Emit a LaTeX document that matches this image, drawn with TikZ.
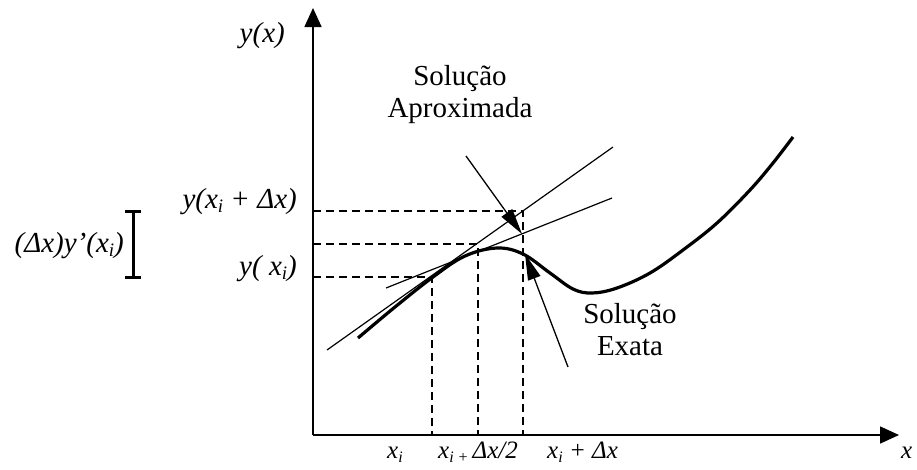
\documentclass[tikz,border=0pt]{standalone}
\usepackage{fontspec}
\setmainfont{Liberation Serif}
\usetikzlibrary{arrows.meta}
\newcommand{\sbi}[1]{\raisebox{-0.35ex}{\fontsize{19}{19}\selectfont #1}}
\newcommand{\sbs}[1]{\raisebox{-0.35ex}{\fontsize{16}{16}\selectfont #1}}
\begin{document}
\begin{tikzpicture}[x=1pt,y=-1pt,
  axis/.style={line width=1.6pt,-{Triangle[length=19pt,width=17pt]}},
  guide/.style={line width=1.2pt, dash pattern=on 8pt off 5pt},
  tanline/.style={line width=1.2pt},
  exact/.style={line width=3.2pt},
  pointer/.style={line width=1.3pt,-{Triangle[length=26pt,width=13pt]}},
  bar/.style={line width=3pt},
  lbl/.style={font=\fontsize{29}{32}\selectfont\itshape, inner sep=0pt},
  blbl/.style={font=\fontsize{25}{28}\selectfont\itshape, inner sep=0pt},
  txt/.style={font=\fontsize{29}{32}\selectfont, inner sep=0pt, align=center}]
\useasboundingbox (0,0) rectangle (917,469);
% axes
\coordinate (O) at (313,435);
\coordinate (ytop) at (313,8);
\coordinate (xend) at (899,435);
\draw[axis] (O) -- (ytop);
\draw[axis] (O) -- (xend);
% guide points
\coordinate (hA) at (313,211);
\coordinate (hB) at (313,244);
\coordinate (hC) at (313,277);
\coordinate (pA) at (523,211);
\coordinate (pB) at (478,244);
\coordinate (pC) at (432,277);
\coordinate (bA) at (523,435);
\coordinate (bB) at (478,435);
\coordinate (bC) at (432,435);
\draw[guide] (hA) -- (pA) -- (bA);
\draw[guide] (hB) -- (pB) -- (bB);
\draw[guide] (hC) -- (pC) -- (bC);
% tangent lines
\coordinate (t1a) at (327,350);
\coordinate (t1b) at (613,147);
\coordinate (t2a) at (386,288);
\coordinate (t2b) at (612,198);
\draw[tanline] (t1a) -- (t1b);
\draw[tanline] (t2a) -- (t2b);
% exact solution curve
\draw[exact] plot[smooth, tension=0.6] coordinates {(358,338) (395,307) (433,277) (465,256) (497,248) (523,254) (550,273) (573,289) (592,293) (617,288) (650,273) (683,250) (717,223) (750,190) (773,163) (793,137)};
% labels
\node[lbl, anchor=base east] (lyx) at (285,42) {y(x)};
\node[lbl, anchor=base east] (lyxd) at (297,208) {y(x\sbi{i} + Δx)};
\node[lbl, anchor=base east] (lyxi) at (297,275) {y( x\sbi{i})};
\node[lbl, anchor=base east] (ldy) at (124,252) {(Δx)y’(x\sbi{i})};
\node[blbl, anchor=base west] (bx1) at (387,458) {x\sbs{i}};
\node[blbl, anchor=base west] (bx2) at (438,458) {x\sbs{i +}\,Δx/2};
\node[blbl, anchor=base west] (bx3) at (547,458) {x\sbs{i} + Δx};
\node[blbl, anchor=base west] (bxx) at (901,458) {x};
% I-bar
\coordinate (ibT) at (133,211);
\coordinate (ibB) at (133,277);
\coordinate (ibTl) at (125,211);
\coordinate (ibTr) at (141,211);
\coordinate (ibBl) at (125,277);
\coordinate (ibBr) at (141,277);
\draw[bar] (ibT) -- (ibB);
\draw[bar] (ibTl) -- (ibTr);
\draw[bar] (ibBl) -- (ibBr);
% annotations
\node[txt, anchor=base] (apx) at (460,117) {Solução\\Aproximada};
\node[txt, anchor=base] (exa) at (630,355) {Solução\\Exata};
\coordinate (apxTail) at (466,156);
\coordinate (apxTip) at (522,234);
\coordinate (exaTail) at (568,367);
\coordinate (exaTip) at (525,254);
\draw[pointer] (apxTail) -- (apxTip);
\draw[pointer] (exaTail) -- (exaTip);
\end{tikzpicture}
\end{document}
